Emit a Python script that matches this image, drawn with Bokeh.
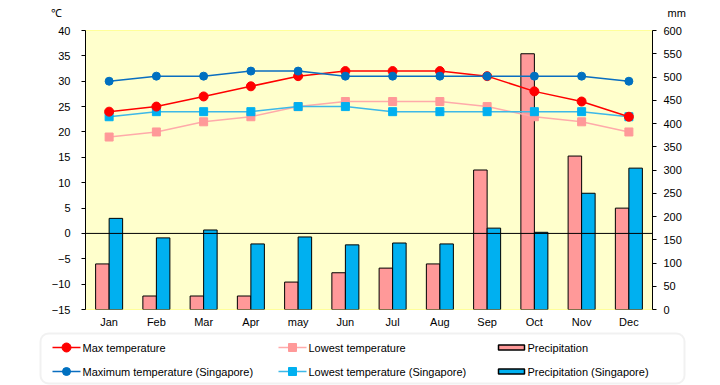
from bokeh.plotting import figure
from bokeh.models import Range1d, LinearAxis, FactorRange, Span, FixedTicker, ColumnDataSource, BoxAnnotation
from bokeh.transform import dodge
from bokeh.layouts import column
from bokeh.embed import file_html
from bokeh.resources import INLINE
from bokeh.core.properties import value

months = ["Jan", "Feb", "Mar", "Apr", "may", "Jun", "Jul", "Aug", "Sep", "Oct", "Nov", "Dec"]
max_temp = [24, 25, 27, 29, 31, 32, 32, 32, 31, 28, 26, 23]
low_temp = [19, 20, 22, 23, 25, 26, 26, 26, 25, 23, 22, 20]
precip = [98, 29, 29, 29, 59, 79, 89, 98, 300, 550, 330, 218]
sg_max_temp = [30, 31, 31, 32, 32, 31, 31, 31, 31, 31, 31, 30]
sg_low_temp = [23, 24, 24, 24, 25, 25, 24, 24, 24, 24, 24, 23]
sg_precip = [196, 154, 171, 141, 156, 139, 143, 141, 175, 166, 250, 304]
left_ticks = list(range(-15, 41, 5))
right_ticks = list(range(0, 601, 50))

FONT = "Liberation Sans"
W = 720


def no_align(f):
    try:
        f.frame_align = False
    except Exception:
        pass


def blank(height):
    f = figure(width=W, height=height, x_range=Range1d(0, W), y_range=Range1d(height, 0),
               output_backend="svg", toolbar_location=None,
               x_axis_location=None, y_axis_location=None,
               min_border_left=0, min_border_right=0, min_border_top=0, min_border_bottom=0)
    f.grid.visible = False
    f.outline_line_color = None
    f.background_fill_color = "white"
    no_align(f)
    return f


# header with unit labels
hd = blank(24)
hd.text(x=[50, 667], y=[6, 6], text=["℃", "mm"], text_baseline="top", text_align="left",
        text_font=value(FONT), text_font_size="11px", text_color="black")

src = ColumnDataSource(dict(month=months, max_temp=max_temp, low_temp=low_temp, precip=precip,
                            sg_max_temp=sg_max_temp, sg_low_temp=sg_low_temp, sg_precip=sg_precip))

p = figure(x_range=FactorRange(factors=months), y_range=Range1d(-15, 40),
           width=W, height=306, output_backend="svg", toolbar_location=None,
           min_border_left=85, min_border_right=68, min_border_top=6, min_border_bottom=20)
no_align(p)
p.extra_y_ranges = {"mm": Range1d(0, 600)}
p.background_fill_color = "#FFFFCC"
p.border_fill_color = "white"
p.outline_line_color = "#FFFF99"
p.xgrid.visible = False
p.ygrid.visible = False

# bars
p.vbar(x=dodge("month", -0.143, range=p.x_range), top="precip", bottom=0, width=0.286,
       y_range_name="mm", source=src, fill_color="#FF9999", line_color="black", line_width=1)
p.vbar(x=dodge("month", 0.143, range=p.x_range), top="sg_precip", bottom=0, width=0.286,
       y_range_name="mm", source=src, fill_color="#00B0F0", line_color="black", line_width=1)

p.add_layout(Span(location=0, dimension="width", line_color="black", line_width=1))

# lines
p.line("month", "low_temp", source=src, line_color="#FFAAAA", line_width=1.5)
p.scatter("month", "low_temp", source=src, marker="square", size=8, fill_color="#FF9999", line_color="#FF9999")
p.line("month", "sg_low_temp", source=src, line_color="#3DB8E8", line_width=1.5)
p.scatter("month", "sg_low_temp", source=src, marker="square", size=8, fill_color="#00B0F0", line_color="#00B0F0")
p.line("month", "max_temp", source=src, line_color="#FF0000", line_width=1.5)
p.scatter("month", "max_temp", source=src, marker="circle", size=9, fill_color="#FF0000", line_color="#FF0000")
p.line("month", "sg_max_temp", source=src, line_color="#0A6EC0", line_width=1.5)
p.scatter("month", "sg_max_temp", source=src, marker="circle", size=8, fill_color="#0070C0", line_color="#0070C0")

# axes
ya = p.yaxis[0]
ya.ticker = FixedTicker(ticks=left_ticks)
ry = LinearAxis(y_range_name="mm", ticker=FixedTicker(ticks=right_ticks))
p.add_layout(ry, "right")
for ax in (ya, ry):
    ax.axis_line_color = "black"
    ax.major_tick_line_color = "black"
    ax.major_tick_out = 4
    ax.major_tick_in = 0
    ax.minor_tick_line_color = None
    ax.major_label_text_font = FONT
    ax.major_label_text_font_size = "11px"
    ax.major_label_text_color = "black"
ya.major_label_standoff = 11
ry.major_label_standoff = 7
xa = p.xaxis[0]
xa.axis_line_color = None
xa.major_tick_line_color = None
xa.major_tick_out = 0
xa.major_label_standoff = 6
xa.major_label_text_font = FONT
xa.major_label_text_font_size = "11px"
xa.major_label_text_color = "black"

# legend panel
lg = blank(55)
lg.add_layout(BoxAnnotation(left=40, right=684, top=3, bottom=53, border_radius=8,
                            fill_color=None, line_color="#D0D0D0", line_width=2))

names = ["Max temperature", "Lowest temperature", "Precipitation",
         "Maximum temperature (Singapore)", "Lowest temperature (Singapore)", "Precipitation (Singapore)"]
cols_x = [52, 278, 498]
rows_y = [17, 41]
kinds = [("line", "#FF0000", "circle", 9), ("line", "#FFAAAA", "square", 8), ("bar", "#FF9999", None, 0),
         ("line", "#0A6EC0", "circle", 8), ("line", "#3DB8E8", "square", 8), ("bar", "#00B0F0", None, 0)]
mk_colors = ["#FF0000", "#FF9999", None, "#0070C0", "#00B0F0", None]
for i, (name, kind) in enumerate(zip(names, kinds)):
    cx = cols_x[i % 3]
    cy = rows_y[i // 3]
    if kind[0] == "line":
        lg.segment(x0=[cx], y0=[cy], x1=[cx + 28], y1=[cy], line_color=kind[1], line_width=1.5)
        lg.scatter(x=[cx + 14], y=[cy], marker=kind[2], size=kind[3], fill_color=mk_colors[i], line_color=mk_colors[i])
        tx = cx + 30
    else:
        lg.quad(left=[cx], right=[cx + 26], top=[cy - 2.5], bottom=[cy + 2.5], fill_color=kind[1], line_color="black", line_width=1.5)
        tx = cx + 29
    lg.text(x=[tx], y=[cy], text=[name], text_baseline="middle", text_align="left",
            text_font=value(FONT), text_font_size="11px", text_color="black")

layout = column(hd, p, lg, spacing=0)
open("out.html", "w").write(file_html(layout, INLINE))
